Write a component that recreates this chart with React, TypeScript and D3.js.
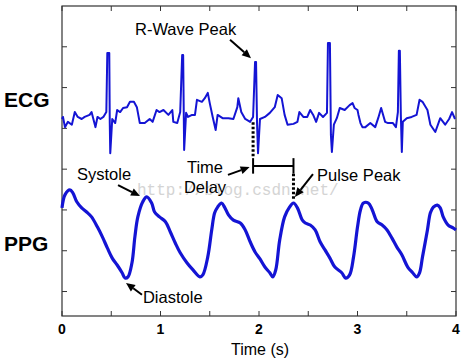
import React from "react";
import * as d3 from "d3";

// ECG samples: time (s), amplitude (axis units)
const ecgTime = [0,.01,.03,.06,.10,.13,.16,.20,.23,.28,.30,.34,.36,.39,.42,.45,.46,.48,.485,.49,.51,.54,.56,.59,.62,.66,.69,.73,.76,.79,.84,.89,.92,.96,.99,1.03,1.08,1.12,1.13,1.17,1.20,1.22,1.23,1.24,1.26,1.28,1.32,1.35,1.37,1.42,1.45,1.48,1.50,1.53,1.56,1.58,1.63,1.69,1.74,1.78,1.79,1.82,1.86,1.91,1.94,1.96,1.97,1.98,1.99,2.01,2.06,2.11,2.16,2.19,2.23,2.26,2.29,2.35,2.39,2.41,2.45,2.49,2.52,2.55,2.58,2.61,2.65,2.69,2.70,2.72,2.73,2.74,2.76,2.79,2.82,2.87,2.92,2.95,2.97,3.00,3.01,3.03,3.05,3.08,3.13,3.18,3.21,3.24,3.28,3.31,3.36,3.39,3.41,3.42,3.43,3.44,3.45,3.46,3.50,3.55,3.60,3.63,3.66,3.71,3.74,3.79,3.84,3.89,3.93,3.96,3.99];
const ecgValue = [4.23,4.28,4.03,4.16,4.09,4.40,4.28,4.23,4.28,4.33,4.40,4.03,4.28,4.23,4.28,4.40,5.85,5.85,4.13,3.39,4.23,4.13,4.45,4.40,4.50,4.52,4.65,4.65,4.52,4.13,4.13,4.23,4.16,4.45,4.40,4.45,4.33,4.45,4.16,4.13,4.40,5.80,5.80,3.47,4.38,4.28,4.33,4.33,4.70,4.65,4.74,4.87,4.62,4.28,3.96,4.33,4.25,4.25,4.23,4.52,4.74,4.40,4.23,4.16,4.28,5.63,5.63,4.13,3.39,4.23,4.28,4.38,4.52,4.82,4.74,4.33,4.09,4.11,4.16,4.40,4.28,4.28,4.45,4.33,4.16,4.38,4.28,4.38,6.09,6.09,3.84,3.42,4.09,4.25,4.50,4.45,4.57,4.62,4.50,4.45,4.33,4.13,4.03,4.03,4.13,4.03,4.25,4.50,4.16,4.13,4.13,4.03,4.40,5.90,5.90,4.33,3.42,4.16,4.25,4.28,4.33,4.70,4.65,4.45,4.09,3.91,4.25,4.09,4.23,4.40,4.23];

// PPG samples: time (s), amplitude (axis units)
const ppgTime = [0,.03,.08,.11,.15,.20,.25,.30,.36,.41,.46,.51,.56,.61,.64,.67,.71,.74,.77,.82,.86,.91,.94,.99,1.05,1.10,1.15,1.20,1.27,1.33,1.40,1.43,1.48,1.52,1.55,1.58,1.62,1.65,1.69,1.74,1.81,1.86,1.91,1.96,2.01,2.06,2.11,2.14,2.17,2.21,2.26,2.31,2.35,2.39,2.44,2.47,2.52,2.57,2.62,2.67,2.72,2.77,2.84,2.88,2.92,2.96,3.00,3.03,3.06,3.11,3.15,3.20,3.25,3.30,3.35,3.40,3.45,3.51,3.56,3.60,3.63,3.66,3.71,3.74,3.77,3.81,3.84,3.87,3.92,3.97,4.00];
const ppgValue = [2.05,2.37,2.49,2.42,2.20,2.05,1.95,1.83,1.58,1.34,1.07,0.82,0.65,0.46,0.33,0.36,0.70,1.34,1.83,2.20,2.32,2.17,1.95,1.83,1.71,1.46,1.19,0.95,0.70,0.53,0.36,0.41,0.85,1.51,1.93,2.07,2.17,2.07,1.88,1.75,1.68,1.51,1.22,0.97,0.80,0.60,0.46,0.36,0.53,1.26,1.83,2.07,2.17,2.05,1.75,1.68,1.63,1.51,1.22,1.02,0.82,0.60,0.46,0.33,0.41,0.85,1.58,2.00,2.17,2.17,2.00,1.71,1.63,1.51,1.31,1.09,0.90,0.60,0.46,0.36,0.46,0.85,1.51,1.93,2.07,2.12,2.05,1.83,1.63,1.56,1.51];

const xTickValues = [0, 1, 2, 3, 4];
const xMinorTicks = [0.5, 1.5, 2.5, 3.5];
const yTickValues = [0, 1, 2, 3, 4, 5, 6];

// annotation anchors in data units [t, v]
const rWaveLabel = { text: "R-Wave Peak", at: [0.741, 6.29] };
const rWaveArrow = [[1.706, 6.17], [1.919, 5.72]];
const systoleLabel = { text: "Systole", at: [0.152, 2.73] };
const systoleArrow = [[0.569, 2.61], [0.792, 2.34]];
const diastoleLabel = { text: "Diastole", at: [0.822, -0.28] };
const diastoleArrow = [[0.812, -0.08], [0.65, 0.21]];
const pulseLabel = { text: "Pulse Peak", at: [2.589, 2.71] };
const pulseArrow = [[2.548, 2.88], [2.365, 2.32]];
const delayLines = ["Time", "Delay"];
const delayLabelAt = [[1.452, 2.91], [1.452, 2.42]];
const delayArrow = [[1.685, 2.86], [1.905, 3.05]];
const delayStart = 1.94;
const delayEnd = 2.35;
const bracketV = [3.27, 3.08, 2.89];
const leftDotted = [4.15, 3.27];
const rightDotted = [2.89, 2.24];

const W = 465, H = 359;
const x = d3.scaleLinear().domain([0, 4]).range([62, 456]);
const y = d3.scaleLinear().domain([-0.6, 7]).range([316, 6]);
const BLUE = "#1414d4";

function Arrow({ pts }: { pts: number[][] }) {
  const [x0, y0] = [x(pts[0][0]), y(pts[0][1])];
  const [x1, y1] = [x(pts[1][0]), y(pts[1][1])];
  const ang = Math.atan2(y1 - y0, x1 - x0);
  const L = 9, Wd = 4;
  const bx = x1 - L * Math.cos(ang), by = y1 - L * Math.sin(ang);
  const px = -Math.sin(ang) * Wd, py = Math.cos(ang) * Wd;
  return (
    <g>
      <line x1={x0} y1={y0} x2={bx} y2={by} stroke="#000" strokeWidth={2} />
      <polygon points={`${x1},${y1} ${bx + px},${by + py} ${bx - px},${by - py}`} fill="#000" />
    </g>
  );
}

export default function App() {
  const ecg = ecgTime.map((t, i) => [t, ecgValue[i]] as [number, number]);
  const ppg = ppgTime.map((t, i) => [t, ppgValue[i]] as [number, number]);
  const ecgLine = d3.line<[number, number]>().x(d => x(d[0])).y(d => y(d[1]));
  const ppgLine = d3.line<[number, number]>().x(d => x(d[0])).y(d => y(d[1])).curve(d3.curveCatmullRom.alpha(0.5));
  const [x0, x1] = x.range();
  const [yb, yt] = y.range();
  const font = "'Liberation Sans', Arial, sans-serif";
  const allX = [...xTickValues, ...xMinorTicks];
  return (
    <svg width={W} height={H} style={{ position: "absolute", left: 0, top: 0, background: "#fff" }} fontFamily={font}>
      <rect x={0} y={0} width={W} height={H} fill="#fff" />
      {/* watermark */}
      <text x={137} y={195} fontFamily="'Liberation Mono', 'DejaVu Sans Mono', monospace" fontSize={16} fill="#d4d4d4">http://blog.csdn.net/</text>
      {/* frame */}
      <rect x={x0} y={yt} width={x1 - x0} height={yb - yt} fill="none" stroke="#333" strokeWidth={1.2} />
      {allX.map(v => (
        <g key={"xt" + v}>
          <line x1={x(v)} x2={x(v)} y1={yb} y2={yb - 5} stroke="#333" />
          <line x1={x(v)} x2={x(v)} y1={yt} y2={yt + 5} stroke="#333" />
        </g>
      ))}
      {yTickValues.map(v => (
        <g key={"yt" + v}>
          <line x1={x0} x2={x0 + 5} y1={y(v)} y2={y(v)} stroke="#333" />
          <line x1={x1} x2={x1 - 5} y1={y(v)} y2={y(v)} stroke="#333" />
        </g>
      ))}
      {xTickValues.map(v => (
        <text key={"xl" + v} x={x(v)} y={334} textAnchor="middle" fontSize={14} fontWeight="bold" fill="#000">{v}</text>
      ))}
      <text x={260} y={355} textAnchor="middle" fontSize={16} fill="#000">Time (s)</text>
      <text x={4} y={107} fontSize={21} fontWeight="bold" fill="#000">ECG</text>
      <text x={4} y={251} fontSize={21} fontWeight="bold" fill="#000">PPG</text>

      {/* signals */}
      <path d={ecgLine(ecg) || ""} fill="none" stroke={BLUE} strokeWidth={2} strokeLinejoin="round" />
      <path d={ppgLine(ppg) || ""} fill="none" stroke={BLUE} strokeWidth={3.2} strokeLinejoin="round" />

      {/* time delay */}
      <line x1={x(delayStart)} x2={x(delayStart)} y1={y(leftDotted[0])} y2={y(leftDotted[1])} stroke="#000" strokeWidth={3} strokeDasharray="2.5,2" />
      <line x1={x(delayEnd)} x2={x(delayEnd)} y1={y(rightDotted[0])} y2={y(rightDotted[1])} stroke="#000" strokeWidth={3} strokeDasharray="2.5,2" />
      <line x1={x(delayStart)} x2={x(delayStart)} y1={y(bracketV[0])} y2={y(bracketV[2])} stroke="#000" strokeWidth={2} />
      <line x1={x(delayEnd)} x2={x(delayEnd)} y1={y(bracketV[0])} y2={y(bracketV[2])} stroke="#000" strokeWidth={2} />
      <line x1={x(delayStart)} x2={x(delayEnd)} y1={y(bracketV[1])} y2={y(bracketV[1])} stroke="#000" strokeWidth={2} />

      {/* annotations */}
      {[rWaveLabel, systoleLabel, diastoleLabel, pulseLabel].map(a => (
        <text key={a.text} x={x(a.at[0])} y={y(a.at[1])} fontSize={16.5} fill="#000">{a.text}</text>
      ))}
      {delayLines.map((s, i) => (
        <text key={s} x={x(delayLabelAt[i][0])} y={y(delayLabelAt[i][1])} textAnchor="middle" fontSize={16.5} fill="#000">{s}</text>
      ))}
      <Arrow pts={rWaveArrow} />
      <Arrow pts={systoleArrow} />
      <Arrow pts={diastoleArrow} />
      <Arrow pts={pulseArrow} />
      <Arrow pts={delayArrow} />
    </svg>
  );
}
